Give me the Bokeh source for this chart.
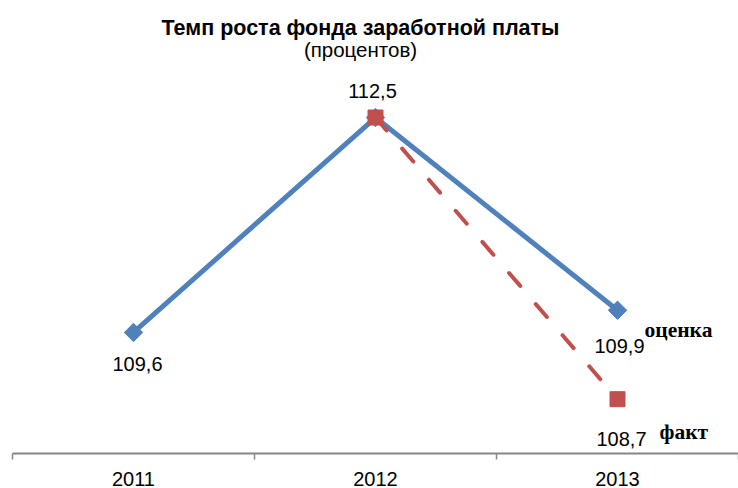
import numpy as np
from bokeh.plotting import figure
from bokeh.models import Range1d, FixedTicker, ColumnDataSource, LabelSet, Label, LinearAxis
from bokeh.core.properties import value
from bokeh.embed import file_html
from bokeh.resources import INLINE

# ---- data ----
years = ["2011", "2012", "2013"]
estimate = [109.6, 112.5, 109.9]          # оценка
fact_years = ["2012", "2013"]
fact = [112.5, 108.7]                     # факт

title_text = "Темп роста фонда заработной платы"
subtitle_text = "(процентов)"
estimate_name = "оценка"
fact_name = "факт"


def fmt(v):
    return f"{v:.1f}".replace(".", ",")


xs = list(range(len(years)))
fx = [years.index(y) for y in fact_years]

BLUE = "#4F81BD"
RED = "#C0504D"
AXIS = "#868686"
SANS = "Liberation Sans"
SERIF = "Liberation Serif"

Y0, Y1 = 107.967, 113.971

p = figure(width=738, height=488, output_backend="svg", toolbar_location=None,
           x_range=Range1d(-0.5, len(years) - 0.5), y_range=Range1d(Y0, Y1),
           x_axis_location=None, y_axis_location=None,
           min_border_left=12, min_border_right=0, min_border_top=8, min_border_bottom=0)
p.outline_line_color = None
p.background_fill_color = "white"
p.border_fill_color = "white"
p.grid.visible = False

ax = LinearAxis(
    ticker=FixedTicker(ticks=xs, minor_ticks=[x - 0.5 for x in xs] + [xs[-1] + 0.5]),
    major_label_overrides={x: y for x, y in zip(xs, years)},
)
ax.major_tick_out = 0
ax.major_tick_in = 0
ax.minor_tick_out = 6
ax.minor_tick_in = 0
ax.minor_tick_line_color = AXIS
ax.minor_tick_line_width = 1.5
ax.axis_line_color = AXIS
ax.axis_line_width = 2
ax.major_label_standoff = 12
ax.major_label_text_font = SANS
ax.major_label_text_font_size = "20px"
ax.major_label_text_color = "black"
p.add_layout(ax, "below")

# estimate series
p.line(xs, estimate, line_width=5, line_color=BLUE, line_join="round")
p.scatter(xs, estimate, marker="square", angle=np.pi / 4, size=13,
          fill_color=BLUE, line_color=BLUE)

# fact series
p.line(fx, fact, line_width=4, line_color=RED, line_dash="17 24", line_cap="round")
p.scatter(fx, fact, marker="square", size=15, fill_color=RED, line_color=RED)

# data labels
est_src = ColumnDataSource(dict(x=xs, y=estimate, text=[fmt(v) for v in estimate],
                                xo=[4, -3, 2], yo=[-32, 27, -36]))
p.add_layout(LabelSet(source=est_src, x="x", y="y", text="text", x_offset="xo", y_offset="yo",
                      text_align="center", text_baseline="middle", text_font=value(SANS),
                      text_font_size=value("20px"), text_color="black"))
fact_src = ColumnDataSource(dict(x=fx[1:], y=fact[1:], text=[fmt(v) for v in fact[1:]],
                                 xo=[4], yo=[-40]))
p.add_layout(LabelSet(source=fact_src, x="x", y="y", text="text", x_offset="xo", y_offset="yo",
                      text_align="center", text_baseline="middle", text_font=value(SANS),
                      text_font_size=value("20px"), text_color="black"))

# series names
p.add_layout(Label(x=xs[-1], y=estimate[-1], text=estimate_name, x_offset=27, y_offset=-20,
                   text_align="left", text_baseline="middle", text_font=SERIF,
                   text_font_style="bold", text_font_size="21.5px", text_color="black"))
p.add_layout(Label(x=fx[-1], y=fact[-1], text=fact_name, x_offset=42, y_offset=-33,
                   text_align="left", text_baseline="middle", text_font=SERIF,
                   text_font_style="bold", text_font_size="21.5px", text_color="black"))

# title
p.add_layout(Label(x=1, y=Y1, text=title_text, x_offset=-15, y_offset=-19.5,
                   text_align="center", text_baseline="middle", text_font=SANS,
                   text_font_style="bold", text_font_size="21.5px", text_color="black"))
p.add_layout(Label(x=1, y=Y1, text=subtitle_text, x_offset=-15, y_offset=-41,
                   text_align="center", text_baseline="middle", text_font=SANS,
                   text_font_size="20.5px", text_color="black"))

open("out.html", "w").write(file_html(p, INLINE))
